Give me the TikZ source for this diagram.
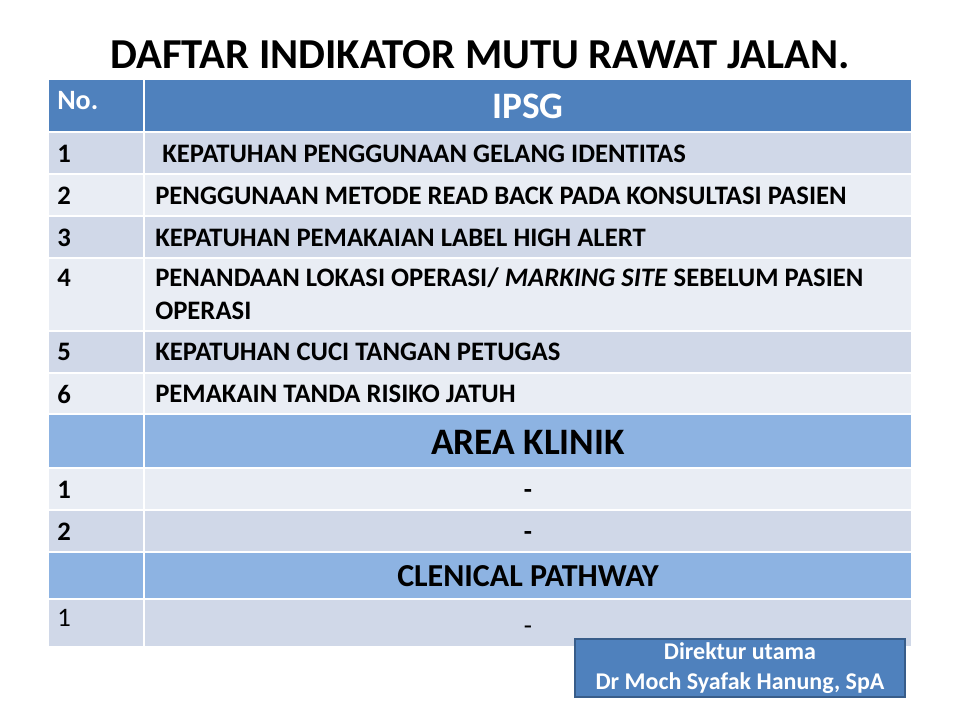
\documentclass[tikz,border=0pt]{standalone}
\usepackage{fontspec}
\setmainfont{Carlito}
\definecolor{hdrblue}{HTML}{4F81BD}
\definecolor{subblue}{HTML}{8DB3E2}
\definecolor{rowdark}{HTML}{D0D8E8}
\definecolor{rowlight}{HTML}{E9EDF4}
\definecolor{boxline}{HTML}{385D8A}
\begin{document}
\begin{tikzpicture}[x=0.75pt,y=-0.75pt,cell/.style={draw=white,line
        width=1.5pt},item/.style={anchor=west,inner sep=0pt,align=left,
        font=\bfseries\fontsize{20}{24.75}\selectfont}]
    \tikzstyle{num}=[anchor=west,inner sep=0pt,font=\bfseries\fontsize{20}{24}\selectfont]
    \tikzstyle{head}=[inner sep=0pt,font=\bfseries\fontsize{28}{32}\selectfont]
    \tikzstyle{dashmark}=[anchor=base,inner sep=0pt,font=\bfseries\fontsize{20}{24}\selectfont]
    \useasboundingbox (0,0) rectangle (960,720);

    \node[font=\bfseries\fontsize{32}{38}\selectfont] (title) at (480,55) {DAFTAR INDIKATOR MUTU RAWAT JALAN.};

    \foreach \ya/\yb/\col in {79/132/hdrblue,132/174/rowdark,174/216/rowlight,
        216/258/rowdark,258/331/rowlight,331/373/rowdark,373/414/rowlight,
        414/468/subblue,468/510/rowlight,510/552/rowdark,552/599/subblue,
        599/647/rowdark}{
      \filldraw[cell,fill=\col] (48,\ya) rectangle (144,\yb);
      \filldraw[cell,fill=\col] (144,\ya) rectangle (912,\yb);
    }

    \node[num,white,font=\bfseries\fontsize{21}{24}\selectfont] (no) at (57,101) {No.};
    \node[head,white] (ipsg) at (528,106) {IPSG};
    \node[num] (n1) at (57,154) {1};
    \node[item] (i1) at (162,154) {KEPATUHAN PENGGUNAAN GELANG IDENTITAS};
    \node[num] (n2) at (57,196) {2};
    \node[item] (i2) at (155,196) {PENGGUNAAN METODE READ BACK PADA KONSULTASI PASIEN};
    \node[num] (n3) at (57,238) {3};
    \node[item] (i3) at (155,238) {KEPATUHAN PEMAKAIAN LABEL HIGH ALERT};
    \node[num] (n4) at (57,278) {4};
    \node[item] (i4) at (155,294) {PENANDAAN LOKASI OPERASI/ \textit{MARKING SITE} SEBELUM PASIEN\\OPERASI};
    \node[num] (n5) at (57,352) {5};
    \node[item] (i5) at (155,352) {KEPATUHAN CUCI TANGAN PETUGAS};
    \node[num] (n6) at (57,394) {6};
    \node[item] (i6) at (155,394) {PEMAKAIN TANDA RISIKO JATUH};
    \node[head] (area) at (528,442) {AREA KLINIK};
    \node[num] (k1) at (57,490) {1};
    \node[dashmark] (d1) at (528,498) {-};
    \node[num] (k2) at (57,532) {2};
    \node[dashmark] (d2) at (528,540) {-};
    \node[head,font=\bfseries\fontsize{24}{28}\selectfont] (path) at (528,576) {CLENICAL PATHWAY};
    \node[num,font=\fontsize{20}{24}\selectfont] (p1) at (57,618) {1};
    \node[dashmark,font=\fontsize{20}{24}\selectfont] (dp) at (528,634) {-};

    \node[draw=boxline,line width=1.5pt,fill=hdrblue,text=white,align=center,
      minimum width=247.5pt,minimum height=43.5pt,inner sep=0pt,
      font=\bfseries\fontsize{18}{22.5}\selectfont] (dir) at (740,668)
      {Direktur utama\\Dr Moch Syafak Hanung, SpA};

  \end{tikzpicture}
\end{document}
